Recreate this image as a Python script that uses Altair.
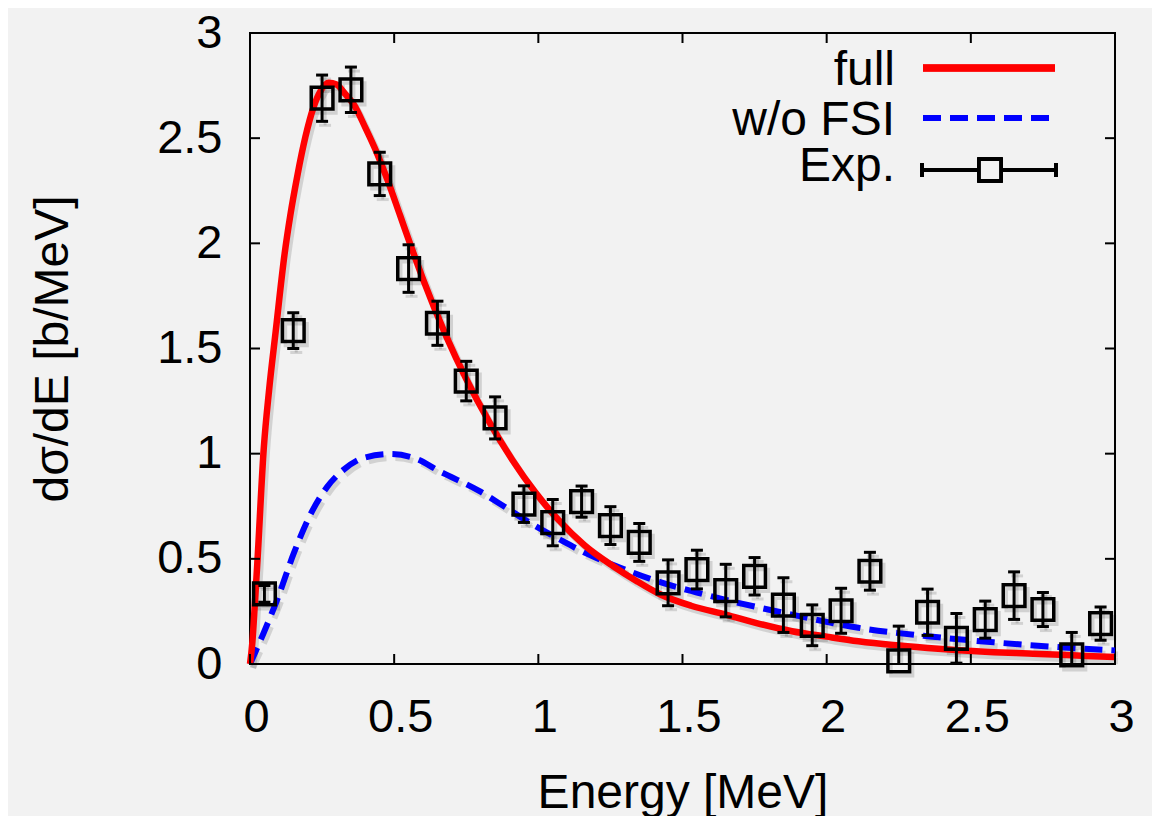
import altair as alt
import pandas as pd

# ---------------- data ----------------
exp_energy = [0.05, 0.15, 0.25, 0.35, 0.45, 0.55, 0.65, 0.75, 0.85, 0.95,
              1.05, 1.15, 1.25, 1.35, 1.45, 1.55, 1.65, 1.75, 1.85, 1.95,
              2.05, 2.15, 2.25, 2.35, 2.45, 2.55, 2.65, 2.75, 2.85, 2.95]
exp_xs = [0.333, 1.585, 2.69, 2.73, 2.33, 1.88, 1.62, 1.345, 1.17, 0.76,
          0.672, 0.772, 0.658, 0.578, 0.386, 0.449, 0.349, 0.417, 0.28, 0.184,
          0.253, 0.441, 0.015, 0.246, 0.122, 0.211, 0.325, 0.259, 0.043, 0.192]
exp_err = [0.04, 0.085, 0.11, 0.108, 0.103, 0.113, 0.105, 0.094, 0.10, 0.087,
           0.11, 0.074, 0.09, 0.09, 0.109, 0.092, 0.125, 0.089, 0.13, 0.097,
           0.107, 0.09, 0.165, 0.11, 0.118, 0.088, 0.113, 0.081, 0.107, 0.079]

full_energy = [0.0, 0.008, 0.017, 0.025, 0.048, 0.066, 0.089, 0.12, 0.14, 0.164,
               0.192, 0.221, 0.245, 0.273, 0.30, 0.33, 0.36, 0.40, 0.44, 0.48,
               0.52, 0.56, 0.60, 0.68, 0.75, 0.83, 0.91, 0.99, 1.07, 1.16,
               1.26, 1.34, 1.42, 1.53, 1.65, 1.77, 1.88, 2.0, 2.11, 2.23,
               2.35, 2.46, 2.58, 2.70, 2.81, 2.90, 3.0]
full_xs = [0.0, 0.10, 0.29, 0.47, 1.03, 1.30, 1.58, 1.95, 2.135, 2.32,
           2.505, 2.65, 2.725, 2.763, 2.755, 2.71, 2.66, 2.55, 2.43, 2.29,
           2.135, 1.98, 1.83, 1.56, 1.355, 1.15, 0.97, 0.815, 0.685, 0.565,
           0.465, 0.395, 0.333, 0.277, 0.235, 0.19, 0.156, 0.13, 0.108, 0.09,
           0.076, 0.065, 0.056, 0.05, 0.044, 0.038, 0.033]

nofsi_energy = [0.0, 0.048, 0.094, 0.152, 0.21, 0.267, 0.325, 0.394, 0.486, 0.578,
                0.659, 0.70, 0.793, 0.886, 0.978, 1.071, 1.175, 1.28, 1.42, 1.55,
                1.65, 1.88, 2.11, 2.35, 2.58, 2.81, 3.0]
nofsi_xs = [0.0, 0.15, 0.305, 0.527, 0.712, 0.841, 0.924, 0.98, 0.998, 0.975,
            0.915, 0.888, 0.824, 0.745, 0.665, 0.594, 0.52, 0.46, 0.39, 0.34,
            0.305, 0.235, 0.172, 0.132, 0.103, 0.08, 0.064]

tick_values = [0, 0.5, 1, 1.5, 2, 2.5, 3]
legend_labels = ["full", "w/o FSI", "Exp."]

# ---------------- tables ----------------
exp_df = pd.DataFrame({"E": exp_energy, "xs": exp_xs, "err": exp_err})
exp_df["lo"] = exp_df["xs"] - exp_df["err"]
exp_df["hi"] = exp_df["xs"] + exp_df["err"]
full_df = pd.DataFrame({"E": full_energy, "xs": full_xs})
nofsi_df = pd.DataFrame({"E": nofsi_energy, "xs": nofsi_xs})
ticks_df = pd.DataFrame({"v": tick_values})

W, H = 865, 631
FONT = "Liberation Sans"
SH = dict(xOffset=3, yOffset=4)
SHC = "#000000"
SHO = 0.13

xscale = alt.Scale(domain=[0, 3], nice=False, zero=False)
yscale = alt.Scale(domain=[0, 3], nice=False, zero=False)

xaxis = alt.Axis(values=tick_values, format="~g", ticks=False, tickSize=0, domain=False,
                 grid=False, labelFont=FONT, labelFontSize=47, labelColor="black",
                 labelPadding=30, labelOffset=6, labelFlush=False, labelOverlap=False,
                 title="Energy [MeV]", titleFont=FONT, titleFontSize=48,
                 titleFontWeight="normal", titleColor="black",
                 titleBaseline="alphabetic", titleY=143)
yaxis = alt.Axis(values=tick_values, format="~g", ticks=False, tickSize=0, domain=False,
                 grid=False, labelFont=FONT, labelFontSize=47, labelColor="black",
                 labelPadding=28, labelFlush=False, labelOverlap=False,
                 title="dσ/dE [b/MeV]", titleFont=FONT, titleFontSize=48,
                 titleFontWeight="normal", titleColor="black",
                 titleBaseline="alphabetic", titleX=-183, titleY=H / 2, titleAngle=270)

X = alt.X("E:Q", scale=xscale, axis=xaxis)
Y = alt.Y("xs:Q", scale=yscale, axis=yaxis)
Xn = alt.X("E:Q", scale=xscale)


def curve(df, color, width, dash=None, shadow=False):
    kw = dict(strokeWidth=width, interpolate="monotone")
    if dash:
        kw["strokeDash"] = dash
    if shadow:
        kw.update(SH)
        kw.update(color=SHC, opacity=SHO)
    else:
        kw["color"] = color
    return alt.Chart(df).mark_line(**kw).encode(x=X, y=Y)


def exp_layers(shadow=False):
    col = SHC if shadow else "black"
    extra = dict(SH, opacity=SHO) if shadow else dict(opacity=1)
    errbar = alt.Chart(exp_df).mark_rule(color=col, strokeWidth=3, clip=True, **extra).encode(
        x=Xn, y=alt.Y("lo:Q", scale=yscale), y2="hi:Q")
    cap_lo = alt.Chart(exp_df).mark_tick(color=col, orient="horizontal", size=12,
                                         thickness=3, clip=True, **extra).encode(
        x=Xn, y=alt.Y("lo:Q", scale=yscale))
    cap_hi = alt.Chart(exp_df).mark_tick(color=col, orient="horizontal", size=12,
                                         thickness=3, clip=True, **extra).encode(
        x=Xn, y=alt.Y("hi:Q", scale=yscale))
    squares = alt.Chart(exp_df).mark_point(shape="square", filled=False, size=470,
                                           strokeWidth=3.5, color=col, **extra).encode(
        x=Xn, y=alt.Y("xs:Q", scale=yscale))
    return [errbar, cap_lo, cap_hi, squares]


nofsi_sh = curve(nofsi_df, None, 6, [18, 9], shadow=True)
full_sh = curve(full_df, None, 6.5, shadow=True)
nofsi = curve(nofsi_df, "#0000ff", 6, [18, 9])
full = curve(full_df, "#ff0000", 6.5)

# inward ticks on all four sides
tick_style = dict(color="black", strokeWidth=2)
tb = alt.Chart(ticks_df).mark_rule(**tick_style).encode(
    x=alt.X("v:Q", scale=xscale), y=alt.value(H), y2=alt.value(H - 10))
tt = alt.Chart(ticks_df).mark_rule(**tick_style).encode(
    x=alt.X("v:Q", scale=xscale), y=alt.value(0), y2=alt.value(10))
tl = alt.Chart(ticks_df).mark_rule(**tick_style).encode(
    y=alt.Y("v:Q", scale=yscale), x=alt.value(0), x2=alt.value(10))
tr = alt.Chart(ticks_df).mark_rule(**tick_style).encode(
    y=alt.Y("v:Q", scale=yscale), x=alt.value(W), x2=alt.value(W - 10))

# legend (drawn inside plot, top right)
leg_text_x = 645
leg_rows = [52, 102, 148]
leg_texts = [
    alt.Chart(pd.DataFrame({"t": [lab]})).mark_text(
        font=FONT, fontSize=48, align="right", baseline="alphabetic", color="black").encode(
        text="t:N", x=alt.value(leg_text_x), y=alt.value(yy))
    for lab, yy in zip(legend_labels, leg_rows)
]
leg_red = alt.Chart(ticks_df).mark_rule(color="#ff0000", strokeWidth=6.5).encode(
    x=alt.value(673), x2=alt.value(805), y=alt.value(35))
leg_blue = alt.Chart(ticks_df).mark_rule(color="#0000ff", strokeWidth=6,
                                         strokeDash=[18, 9]).encode(
    x=alt.value(673), x2=alt.value(800), y=alt.value(85))
leg_black = alt.Chart(ticks_df).mark_rule(color="black", strokeWidth=3).encode(
    x=alt.value(672), x2=alt.value(806), y=alt.value(137))
leg_capl = alt.Chart(ticks_df).mark_rule(color="black", strokeWidth=3).encode(
    x=alt.value(672), y=alt.value(130), y2=alt.value(144))
leg_capr = alt.Chart(ticks_df).mark_rule(color="black", strokeWidth=3).encode(
    x=alt.value(806), y=alt.value(130), y2=alt.value(144))
leg_sq = alt.Chart(ticks_df).mark_point(shape="square", filled=False, size=470,
                                        strokeWidth=3.5, color="black", opacity=1,
                                        fill="#f2f2f2", fillOpacity=1).encode(
    x=alt.value(740), y=alt.value(137))

chart = alt.layer(
    nofsi_sh, full_sh, *exp_layers(shadow=True),
    nofsi, full, *exp_layers(), tb, tt, tl, tr,
    *leg_texts, leg_red, leg_blue, leg_black, leg_capl, leg_capr, leg_sq
).properties(
    width=W, height=H,
    autosize=alt.AutoSizeParams(type="none"),
    padding={"left": 242, "top": 25, "right": 37, "bottom": 152},
    background="#f2f2f2",
).configure_view(
    stroke="black", strokeWidth=2, fill="#f2f2f2"
)

chart.save("out.html", embed_options={"renderer": "svg", "actions": False})
